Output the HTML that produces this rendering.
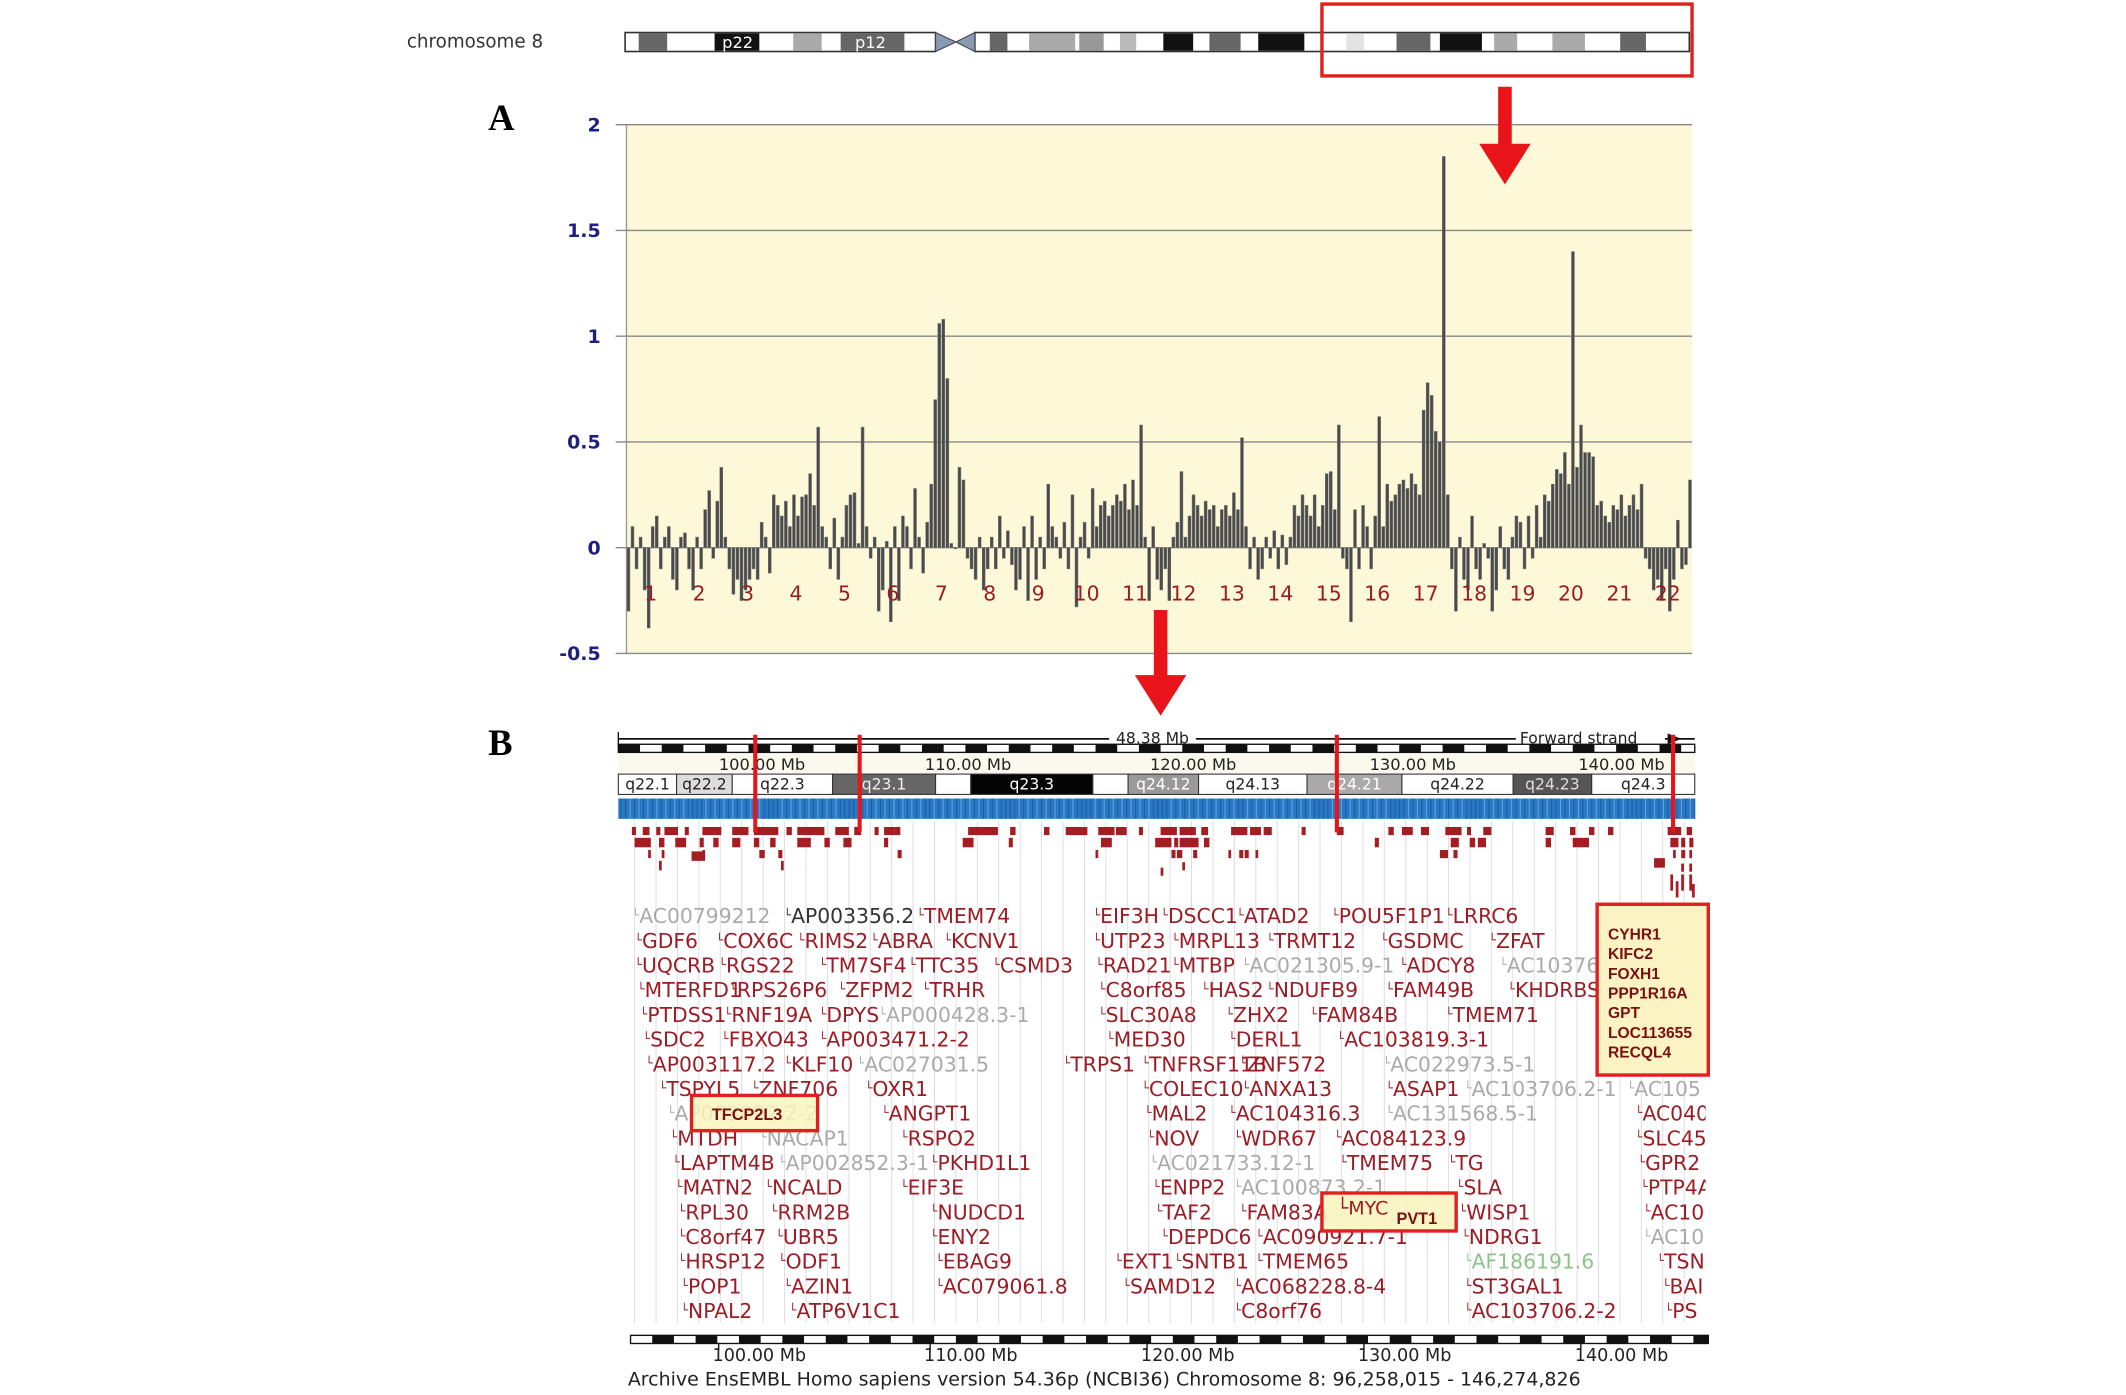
<!DOCTYPE html>
<html><head><meta charset="utf-8"><style>
html,body{margin:0;padding:0;background:#fff;}
svg{display:block;}
</style></head><body>
<svg id="fig" xmlns="http://www.w3.org/2000/svg" width="2126" height="1395" viewBox="0 0 1568 1029">
<g id="ideo">
<text x="300" y="35" font-family="DejaVu Sans,sans-serif" font-size="13.5" fill="#333">chromosome 8</text>
</g>
<g id="chartA"></g>
<g id="panelB"></g>
</svg>
<script>
const NS="http://www.w3.org/2000/svg";
function mk(p,t,a,txt){const e=document.createElementNS(NS,t);for(const k in a)e.setAttribute(k,a[k]);if(txt!==undefined)e.textContent=txt;p.appendChild(e);return e;}
const svg=document.getElementById('fig');
const ideo=document.getElementById('ideo');
// ---- ideogram ----
const ideoBands=[[471,492,'#666'],[527,560,'#111'],[585,606,'#aaa'],[620,667,'#666'],[730,743,'#666'],[759,793,'#aaa'],[796,814,'#999'],[826,838,'#bbb'],[858,880,'#111'],[892,915,'#666'],[928,962,'#111'],[993,1006,'#e4e4e4'],[1030,1055,'#666'],[1062,1093,'#111'],[1102,1119,'#aaa'],[1145,1169,'#aaa'],[1195,1214,'#666']];
mk(ideo,'rect',{x:461,y:24,width:229,height:14,fill:'#fff',stroke:'#333','stroke-width':1.2});
mk(ideo,'rect',{x:719,y:24,width:527,height:14,fill:'#fff',stroke:'#333','stroke-width':1.2});
ideoBands.forEach(b=>{mk(ideo,'rect',{x:b[0],y:24.6,width:b[1]-b[0],height:12.8,fill:b[2]});});
mk(ideo,'polygon',{points:'690,24 705,31 719,24 719,38 705,31 690,38',fill:'#8a9bb0',stroke:'#445',"stroke-width":0.8});
mk(ideo,'text',{x:544,y:35.5,'text-anchor':'middle','font-family':'DejaVu Sans,sans-serif','font-size':12,fill:'#fff'},'p22');
mk(ideo,'text',{x:642,y:35.5,'text-anchor':'middle','font-family':'DejaVu Sans,sans-serif','font-size':12,fill:'#fff'},'p12');
let rb=mk(ideo,'rect',{x:975,y:3,width:273,height:53,fill:'none',stroke:'#e02020','stroke-width':2.5});


function arrow(x,y1,y2,name){const a=mk(svg,'polygon',{points:`${x-5},${y1} ${x+5},${y1} ${x+5},${y2-30} ${x+19},${y2-30} ${x},${y2} ${x-19},${y2-30} ${x-5},${y2-30}`,fill:'#e8141a'});}
arrow(1110,64,136,'arrow-to-chart');
arrow(856,450,528,'arrow-to-panel-b');
mk(svg,'text',{x:360,y:96,'font-family':'Liberation Serif,serif','font-size':27,'font-weight':'bold',fill:'#000'},'A');
mk(svg,'text',{x:360,y:557,'font-family':'Liberation Serif,serif','font-size':27,'font-weight':'bold',fill:'#000'},'B');

// ---- chart A data ----
const chromLabels=['1','2','3','4','5','6','7','8','9','10','11','12','13','14','15','16','17','18','19','20','21','22'];
const yTicks=[2,1.5,1,0.5,0,-0.5];
const yTickLabels=['2','1.5','1','0.5','0','-0.5'];
const c1=[-0.3,0.1,-0.1,0.05,-0.2,-0.38,0.1,0.15,-0.1,0.05,0.1,-0.15];
const c2=[-0.2,0.05,0.07,-0.1,-0.2,0.05,-0.1,0.18,0.27,-0.05,0.22,0.38];
const c3=[0.05,-0.1,-0.22,-0.15,-0.25,-0.2,-0.15,-0.1,-0.15,0.12,0.05,-0.12];
const c4=[0.25,0.2,0.15,0.22,0.1,0.25,0.15,0.24,0.25,0.35,0.2,0.57];
const c5=[0.1,0.05,-0.1,0.14,-0.15,0.05,0.2,0.25,0.26,0.02,0.57,0.1];
const c6=[-0.05,0.05,-0.3,-0.2,0.03,-0.35,0.1,-0.25,0.15,0.1,-0.1,0.28];
const c7=[0.05,-0.12,0.12,0.3,0.7,1.06,1.08,0.8,0.02,0.0,0.38,0.32];
const c8=[-0.05,-0.1,-0.15,0.05,-0.2,-0.1,0.05,-0.1,0.15,-0.05,0.08,-0.08];
const c9=[-0.2,-0.15,0.1,-0.25,0.15,-0.15,0.05,-0.1,0.3,0.1,0.05,-0.05];
const c10=[0.12,-0.1,0.25,-0.28,0.05,0.12,-0.05,0.28,0.1,0.2,0.22,0.15];
const c11=[0.2,0.25,0.22,0.3,0.18,0.32,0.2,0.58,0.05,-0.25,0.1,-0.15];
const c12=[-0.2,-0.1,-0.25,0.05,0.12,0.36,0.05,0.15,0.25,0.2,0.15,0.22];
const c13=[0.18,0.2,0.1,0.18,0.2,0.15,0.26,0.18,0.52,0.1,-0.1,0.05];
const c14=[-0.15,-0.1,0.05,-0.05,0.08,-0.1,0.06,-0.08,0.05,0.2,0.15,0.25];
const c15=[0.2,0.15,0.25,0.1,0.2,0.35,0.36,0.18,0.58,-0.05,-0.1,-0.35];
const c16=[0.18,-0.1,0.2,0.1,-0.1,0.15,0.62,0.1,0.3,0.22,0.25,0.3];
const c17=[0.32,0.28,0.35,0.3,0.25,0.65,0.78,0.72,0.55,0.5,1.85,0.25];
const c18=[-0.1,-0.3,0.05,-0.15,-0.2,0.15,-0.1,-0.15,0.02,-0.05,-0.3,-0.2];
const c19=[0.1,-0.1,-0.15,0.05,0.15,0.12,-0.1,0.15,-0.05,0.2,0.05,0.25];
const c20=[0.22,0.3,0.37,0.35,0.45,0.3,1.4,0.38,0.58,0.45,0.45,0.43];
const c21=[0.2,0.22,0.15,0.12,0.2,0.18,0.25,0.15,0.2,0.25,0.18,0.3];
const c22=[-0.05,-0.1,-0.2,-0.15,-0.25,-0.1,-0.3,-0.15,0.13,-0.1,-0.08,0.32];
const series=[c1,c2,c3,c4,c5,c6,c7,c8,c9,c10,c11,c12,c13,c14,c15,c16,c17,c18,c19,c20,c21,c22];

const A=document.getElementById('chartA');
const PX0=462,PX1=1248,PY0=92,PY1=482,YMAX=2,YMIN=-0.5;
const yS=v=>PY0+(YMAX-v)/(YMAX-YMIN)*(PY1-PY0);
const cw=(PX1-PX0)/chromLabels.length;
const xC=i=>PX0+i*cw;
let bg=mk(A,'rect',{x:PX0,y:PY0,width:PX1-PX0,height:PY1-PY0,fill:'#fdf8d8'});


mk(A,'line',{x1:PX0,y1:PY0,x2:PX0,y2:PY1,stroke:'#999','stroke-width':1});
yTicks.forEach((t,i)=>{
 const y=yS(t);
 mk(A,'line',{x1:PX0-8,y1:y,x2:PX1,y2:y,stroke:'#888','stroke-width':1});
 const tl=mk(A,'text',{x:443,y:y+5,'text-anchor':'end','font-family':'DejaVu Sans,sans-serif','font-size':14,'font-weight':'bold',fill:'#1f1f80'},yTickLabels[i]);
 
 
});
series.forEach((s,ci)=>{
 const bw=cw/s.length;
 s.forEach((v,j)=>{
  const x=xC(ci)+j*bw+0.4;
  const y0=yS(0),y=yS(v);
  const r=mk(A,'rect',{x:x,y:Math.min(y0,y),width:bw*0.72,height:Math.max(0.8,Math.abs(y-y0)),fill:'#4a4a4a',stroke:'#777','stroke-width':0.4});
  
  
 });
 const lab=mk(A,'text',{x:xC(ci)+cw/2,y:443,'text-anchor':'middle','font-family':'DejaVu Sans,sans-serif','font-size':15,fill:'#9b1c24'},chromLabels[ci]);
 
 
});

// ---- panel B ----
const B=document.getElementById('panelB');
const f='DejaVu Sans,sans-serif';
mk(B,'line',{x1:456,y1:545,x2:1250,y2:545,stroke:'#111','stroke-width':1.3});
mk(B,'line',{x1:456,y1:540,x2:456,y2:551,stroke:'#111'});
mk(B,'rect',{x:818,y:538,width:64,height:12,fill:'#fff'});
mk(B,'text',{x:850,y:548.5,'text-anchor':'middle','font-family':f,'font-size':11.5,fill:'#222'},'48.38 Mb');
mk(B,'rect',{x:1118,y:538,width:110,height:12,fill:'#fff'});
mk(B,'text',{x:1121,y:548.5,'font-family':f,'font-size':11.5,fill:'#222'},'Forward strand');
mk(B,'polygon',{points:'1230,541 1240,545 1230,549',fill:'#111'});
function checker(y,x0,x1){mk(B,'rect',{x:x0,y:y,width:x1-x0,height:6,fill:'#fff',stroke:'#111','stroke-width':1});for(let x=x0;x<x1;x+=32){mk(B,'rect',{x:x,y:y,width:Math.min(16,x1-x),height:6,fill:'#111'});}}
checker(549,456,1250);
const topMb=[[562,'100.00 Mb'],[714,'110.00 Mb'],[880,'120.00 Mb'],[1042,'130.00 Mb'],[1196,'140.00 Mb']];
mk(B,'rect',{x:456,y:556,width:794,height:14,fill:'#fbf8ee'});
topMb.forEach(m=>{mk(B,'text',{x:m[0],y:568,'text-anchor':'middle','font-family':f,'font-size':12,fill:'#222'},m[1]);});
const bands=[[456,499,'#fff','q22.1','#222'],[499,540,'#ddd','q22.2','#222'],[540,614,'#fff','q22.3','#222'],[614,690,'#666','q23.1','#eee'],[690,716,'#fff','',''],[716,806,'#050505','q23.3','#fff'],[806,832,'#fff','',''],[832,884,'#999','q24.12','#fff'],[884,964,'#fff','q24.13','#222'],[964,1034,'#aaa','q24.21','#fff'],[1034,1116,'#fff','q24.22','#222'],[1116,1174,'#555','q24.23','#ddd'],[1174,1250,'#fff','q24.3','#222']];
bands.forEach(b=>{mk(B,'rect',{x:b[0],y:571,width:b[1]-b[0],height:15,fill:b[2],stroke:'#333','stroke-width':0.8});if(b[3])mk(B,'text',{x:(b[0]+b[1])/2,y:582.5,'text-anchor':'middle','font-family':f,'font-size':11.5,fill:b[4]},b[3]);});
mk(B,'rect',{x:456,y:589,width:794,height:15,fill:'#2a78c4'});
for(let x=458;x<1250;x+=3.3){mk(B,'line',{x1:x,y1:589,x2:x,y2:604,stroke:(Math.floor(x)%7<3)?'#5fa3e0':'#1e5ea8','stroke-width':0.8});}
for(let x=468;x<1250;x+=15.8){mk(B,'line',{x1:x,y1:606,x2:x,y2:976,stroke:'#ddd','stroke-width':0.7});}
// gene blocks
const blocks=[[466,610,3,6],[474,610,5,6],[484,610,3,6],[490,610,10,6],[505,610,3,6],[518,610,14,6],[540,610,12,6],[556,610,18,6],[580,610,4,6],[588,610,20,6],[616,610,10,6],[630,610,5,6],[645,610,3,6],[652,610,8,6],[660,610,4,6],[714,610,22,6],[745,610,4,6],[770,610,4,6],[786,610,16,6],[810,610,12,6],[823,610,8,6],[840,610,3,6],[856,610,12,6],[870,610,12,6],[886,610,5,6],[908,610,12,6],[922,610,8,6],[932,610,6,6],[960,610,3,6],[986,610,5,6],[1024,610,4,6],[1034,610,8,6],[1048,610,6,6],[1066,610,12,6],[1082,610,3,6],[1094,610,6,6],[1140,610,6,6],[1158,610,4,6],[1172,610,4,6],[1186,610,4,6],[1230,610,10,6],[1244,610,4,6],
[468,618,12,7],[486,618,4,7],[498,618,8,7],[516,618,3,7],[526,618,4,7],[540,618,6,7],[556,618,4,7],[568,618,4,7],[588,618,10,7],[608,618,4,7],[622,618,6,7],[652,618,3,7],[710,618,8,7],[744,618,3,7],[812,618,8,7],[852,618,12,7],[866,618,3,7],[870,618,14,7],[888,618,4,7],[1014,618,3,7],[1070,618,6,7],[1084,618,4,7],[1090,618,6,7],[1140,618,4,7],[1160,618,12,7],[1232,618,6,7],[1240,618,3,7],[1246,618,3,7],
[478,627,2,6],[488,627,2,6],[518,627,2,6],[560,627,4,6],[574,627,3,6],[662,627,3,6],[808,627,2,6],[864,627,3,6],[868,627,4,6],[880,627,3,6],[906,627,2,6],[914,627,3,6],[918,627,3,6],[926,627,2,6],[1062,627,6,6],[1072,627,3,6],[1234,627,2,6],[1240,627,3,6],[1246,627,2,6],
[486,635,2,7],[510,628,10,7],[576,635,2,7],[856,640,2,6],[872,636,2,6],[1220,633,8,7],[1240,637,2,6],[1246,637,2,6],
[1232,645,2,12],[1240,645,2,12],[1246,645,2,12],[1236,650,2,12],[1248,652,2,10]];
blocks.forEach(b=>{mk(B,'rect',{x:b[0],y:b[1],width:b[2],height:b[3],fill:'#a31d22'});});
[557,634,986,1234].forEach(x=>{const l=mk(B,'rect',{x:x-1.5,y:542,width:3,height:72,fill:'#e8141a'});});
// gene labels
const genes=[
[0,[[466,'AC00799212','gr'],[578,'AP003356.2','dk'],[676,'TMEM74'],[806,'EIF3H'],[856,'DSCC1'],[912,'ATAD2'],[982,'POU5F1P1'],[1066,'LRRC6']]],
[1,[[468,'GDF6'],[528,'COX6C'],[588,'RIMS2'],[642,'ABRA'],[696,'KCNV1'],[806,'UTP23'],[864,'MRPL13'],[934,'TRMT12'],[1018,'GSDMC'],[1098,'ZFAT']]],
[2,[[468,'UQCRB'],[530,'RGS22'],[604,'TM7SF4'],[670,'TTC35'],[732,'CSMD3'],[808,'RAD21'],[864,'MTBP'],[916,'AC021305.9-1','gr'],[1032,'ADCY8'],[1106,'AC10376','gr']]],
[3,[[470,'MTERFD1'],[538,'RPS26P6'],[618,'ZFPM2'],[680,'TRHR'],[810,'C8orf85'],[886,'HAS2'],[934,'NDUFB9'],[1022,'FAM49B'],[1112,'KHDRBS']]],
[4,[[472,'PTDSS1'],[534,'RNF19A'],[604,'DPYS'],[648,'AP000428.3-1','gr'],[810,'SLC30A8'],[904,'ZHX2'],[966,'FAM84B'],[1066,'TMEM71']]],
[5,[[474,'SDC2'],[532,'FBXO43'],[604,'AP003471.2-2'],[816,'MED30'],[906,'DERL1'],[986,'AC103819.3-1']]],
[6,[[476,'AP003117.2'],[578,'KLF10'],[632,'AC027031.5','gr'],[784,'TRPS1'],[842,'TNFRSF11B'],[914,'ZNF572'],[1020,'AC022973.5-1','gr']]],
[7,[[486,'TSPYL5'],[554,'ZNF706'],[638,'OXR1'],[842,'COLEC10'],[916,'ANXA13'],[1022,'ASAP1'],[1080,'AC103706.2-1','gr'],[1200,'AC105','gr']]],
[8,[[492,'AP003892.2-2','gr'],[650,'ANGPT1'],[844,'MAL2'],[906,'AC104316.3'],[1022,'AC131568.5-1','gr'],[1206,'AC040']]],
[9,[[494,'MTDH'],[560,'NACAP1','gr'],[664,'RSPO2'],[846,'NOV'],[910,'WDR67'],[984,'AC084123.9'],[1206,'SLC45']]],
[10,[[496,'LAPTM4B'],[574,'AP002852.3-1','gr'],[686,'PKHD1L1'],[848,'AC021733.12-1','gr'],[988,'TMEM75'],[1068,'TG'],[1208,'GPR2']]],
[11,[[498,'MATN2'],[564,'NCALD'],[664,'EIF3E'],[850,'ENPP2'],[910,'AC100873.2-1','gr'],[1074,'SLA'],[1210,'PTP4A']]],
[12,[[500,'RPL30'],[568,'RRM2B'],[686,'NUDCD1'],[852,'TAF2'],[914,'FAM83A'],[1076,'WISP1'],[1212,'AC10']]],
[13,[[500,'C8orf47'],[572,'UBR5'],[686,'ENY2'],[856,'DEPDC6'],[926,'AC090921.7-1'],[1078,'NDRG1'],[1212,'AC10','gr']]],
[14,[[500,'HRSP12'],[574,'ODF1'],[690,'EBAG9'],[822,'EXT1'],[866,'SNTB1'],[926,'TMEM65'],[1080,'AF186191.6','gn'],[1222,'TSN']]],
[15,[[502,'POP1'],[578,'AZIN1'],[690,'AC079061.8'],[828,'SAMD12'],[910,'AC068228.8-4'],[1080,'ST3GAL1'],[1226,'BAI']]],
[16,[[502,'NPAL2'],[582,'ATP6V1C1'],[910,'C8orf76'],[1080,'AC103706.2-2'],[1228,'PS']]]];
mk(svg,'clipPath',{id:'gc'});
mk(svg.lastChild,'rect',{x:440,y:600,width:818,height:400});
const GL=mk(B,'g',{'clip-path':'url(#gc)'});
genes.forEach(r=>{const y=681+r[0]*18.2;r[1].forEach(g=>{
 const cls=g[2]; const col=cls==='gr'?'#aaa':cls==='dk'?'#333':cls==='gn'?'#8bc48b':'#9b1c24';
 const t=mk(GL,'text',{x:g[0],y:y,'font-family':f,'font-size':15,fill:col});
 mk(t,'tspan',{'font-size':9,dy:-3},'└');
 mk(t,'tspan',{dy:3},g[1]);
 
 
});});
// highlight boxes
let b1=mk(B,'rect',{x:510,y:808,width:93,height:26,fill:'rgba(250,244,190,0.85)',stroke:'#e02020','stroke-width':2.5});


mk(B,'text',{x:525,y:826,'font-family':'Liberation Sans,sans-serif','font-size':12,'font-weight':'bold',fill:'#7a1010'},'TFCP2L3');
let b2=mk(B,'rect',{x:975,y:880,width:99,height:28,fill:'rgba(250,244,190,0.9)',stroke:'#e02020','stroke-width':2.5});


mk(B,'text',{x:986,y:896,'font-family':f,'font-size':14,fill:'#9b1c24'},'└MYC');
mk(B,'text',{x:1030,y:903,'font-family':'Liberation Sans,sans-serif','font-size':12,'font-weight':'bold',fill:'#7a1010'},'PVT1');
let b3=mk(B,'rect',{x:1178,y:667,width:82,height:126,fill:'#fbf3c4',stroke:'#e02020','stroke-width':2.5});


['CYHR1','KIFC2','FOXH1','PPP1R16A','GPT','LOC113655','RECQL4'].forEach((n,i)=>{mk(B,'text',{x:1186,y:693+i*14.5,'font-family':'Liberation Sans,sans-serif','font-size':11.5,'font-weight':'bold',fill:'#7a1010'},n);});
// bottom ruler
(function(){const y=985,x0=465,x1=1260;mk(B,'rect',{x:x0,y:y,width:x1-x0,height:6,fill:'#fff',stroke:'#111','stroke-width':1});for(let x=x0;x<x1;x+=32){mk(B,'rect',{x:x+16,y:y,width:Math.min(16,Math.max(0,x1-x-16)),height:6,fill:'#111'});}})();
[[560,'100.00 Mb'],[716,'110.00 Mb'],[876,'120.00 Mb'],[1036,'130.00 Mb'],[1196,'140.00 Mb']].forEach(m=>{mk(B,'line',{x1:m[0]-30,y1:991,x2:m[0]-30,y2:996,stroke:'#111'});mk(B,'text',{x:m[0],y:1004,'text-anchor':'middle','font-family':f,'font-size':13,fill:'#222'},m[1]);});
mk(B,'text',{x:463,y:1022,'font-family':f,'font-size':14,fill:'#222'},'Archive EnsEMBL Homo sapiens version 54.36p (NCBI36) Chromosome 8: 96,258,015 - 146,274,826');
</script>
</body></html>
